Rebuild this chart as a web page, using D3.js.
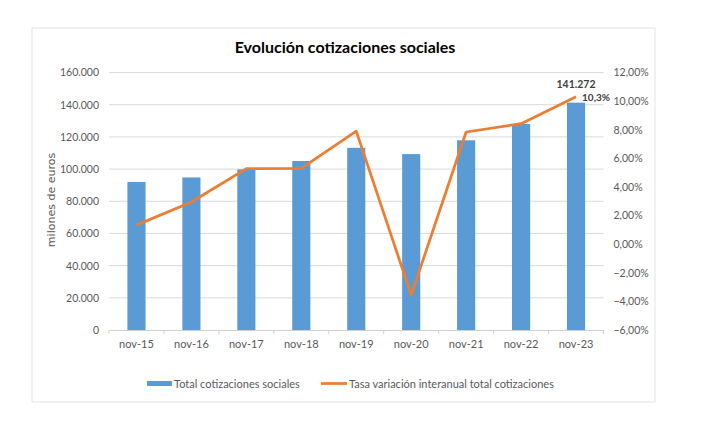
<!DOCTYPE html>
<html>
<head>
<meta charset="utf-8">
<script src="https://cdn.jsdelivr.net/npm/d3@7"></script>
<style>
  html, body { margin: 0; padding: 0; background: #fff; }
  svg { display: block; }
  text { font-family: Lato, "Open Sans", sans-serif; }
</style>
</head>
<body>
<svg id="chart" width="707" height="435"></svg>
<script>
const categories = ["nov-15","nov-16","nov-17","nov-18","nov-19","nov-20","nov-21","nov-22","nov-23"];
const cotizaciones = [92000, 94800, 99800, 105000, 113200, 109300, 117900, 128000, 141272];
const tasa = [1.33, 2.95, 5.28, 5.3, 7.9, -3.56, 7.84, 8.42, 10.3];
const leftTicks = [0, 20000, 40000, 60000, 80000, 100000, 120000, 140000, 160000];
const rightTicks = [-6, -4, -2, 0, 2, 4, 6, 8, 10, 12];
const seriesNames = ["Total cotizaciones sociales", "Tasa variación interanual total cotizaciones"];

(function () {
const svg = d3.select("#chart");
const blue = "#5B9BD5", orange = "#ED7D31", grid = "#D9D9D9", txt = "#595959";

// outer chart border
svg.append("rect").attr("x", 32).attr("y", 28).attr("width", 623).attr("height", 374)
  .attr("fill", "#fff").attr("stroke", "#E3E3E3").attr("stroke-width", 1);

const pL = 109, pR = 603.5, pT = 72.5, pB = 330;

const x = d3.scaleBand().domain(categories).range([pL, pR]).paddingInner(0.67).paddingOuter(0.335);
const y = d3.scaleLinear().domain([0, 160000]).range([pB, pT]);
const y2 = d3.scaleLinear().domain([-6, 12]).range([pB, pT]);

const fmtThousands = d3.formatLocale({decimal: ",", thousands: ".", grouping: [3]}).format(",.0f");
const fmtPct = d => d3.format(".2f")(d).replace(".", ",") + "%";

// gridlines
svg.append("g").selectAll("line").data(leftTicks.filter(d => d > 0)).join("line")
  .attr("x1", pL).attr("x2", pR).attr("y1", d => y(d)).attr("y2", d => y(d))
  .attr("stroke", grid).attr("stroke-width", 1);

// left axis
const gL = svg.append("g").attr("transform", `translate(${pL},0)`)
  .call(d3.axisLeft(y).tickValues(leftTicks).tickFormat(fmtThousands).tickSize(0).tickPadding(10));
gL.select(".domain").remove();
gL.selectAll("text").attr("fill", txt).style("font-size", "10.5px");

// right axis
const gR = svg.append("g").attr("transform", `translate(${pR},0)`)
  .call(d3.axisRight(y2).tickValues(rightTicks).tickFormat(fmtPct).tickSize(0).tickPadding(10));
gR.select(".domain").remove();
gR.selectAll("text").attr("fill", txt).style("font-size", "10.5px");

// bars
svg.append("g").selectAll("rect").data(categories).join("rect")
  .attr("x", d => x(d)).attr("width", x.bandwidth())
  .attr("y", (d, i) => y(cotizaciones[i])).attr("height", (d, i) => pB - y(cotizaciones[i]))
  .attr("fill", blue);

// bottom axis
const gB = svg.append("g").attr("transform", `translate(0,${pB})`)
  .call(d3.axisBottom(x).tickSize(0).tickPadding(10));
gB.select(".domain").attr("stroke", "#D0D0D0");
gB.selectAll("text").attr("fill", txt).style("font-size", "11px");
// category separator ticks
const step = x.step();
svg.append("g").selectAll("line").data(d3.range(categories.length + 1)).join("line")
  .attr("x1", i => pL + i * step).attr("x2", i => pL + i * step)
  .attr("y1", pB).attr("y2", pB + 4).attr("stroke", "#D0D0D0");

// line
const line = d3.line().x((d, i) => x(categories[i]) + x.bandwidth() / 2).y(d => y2(d));
svg.append("path").datum(tasa).attr("d", line)
  .attr("fill", "none").attr("stroke", orange).attr("stroke-width", 2.75).attr("stroke-linejoin", "round");

// data labels for last point
const lastI = categories.length - 1;
const lx = x(categories[lastI]) + x.bandwidth() / 2;
svg.append("text").attr("x", lx).attr("y", y(cotizaciones[lastI]) - 15)
  .attr("text-anchor", "middle").attr("fill", "#404040").style("font-size", "10.5px").style("font-weight", "bold")
  .text(fmtThousands(cotizaciones[lastI]));
svg.append("text").attr("x", 610).attr("y", y2(tasa[lastI]) + 4)
  .attr("text-anchor", "end").attr("fill", "#404040").style("font-size", "10px").style("font-weight", "bold")
  .text(String(tasa[lastI]).replace(".", ",") + "%");

// title
svg.append("text").attr("x", 345).attr("y", 53).attr("text-anchor", "middle")
  .attr("fill", "#000").style("font-size", "16px").style("font-weight", "bold")
  .text("Evolución cotizaciones sociales");

// y axis title
svg.append("text").attr("transform", "translate(55,200) rotate(-90)").attr("text-anchor", "middle")
  .attr("fill", txt).style("font-size", "11px").style("font-family", "'DejaVu Sans', sans-serif")
  .text("milones de euros");

// legend
const lg = svg.append("g");
lg.append("rect").attr("x", 147).attr("y", 381).attr("width", 25).attr("height", 5).attr("fill", blue);
lg.append("text").attr("x", 174).attr("y", 387.5).attr("fill", txt).style("font-size", "11px").text(seriesNames[0]);
lg.append("line").attr("x1", 321).attr("x2", 347).attr("y1", 383.5).attr("y2", 383.5)
  .attr("stroke", orange).attr("stroke-width", 2.75);
lg.append("text").attr("x", 349).attr("y", 387.5).attr("fill", txt).style("font-size", "11px").text(seriesNames[1]);
})();
</script>
</body>
</html>
